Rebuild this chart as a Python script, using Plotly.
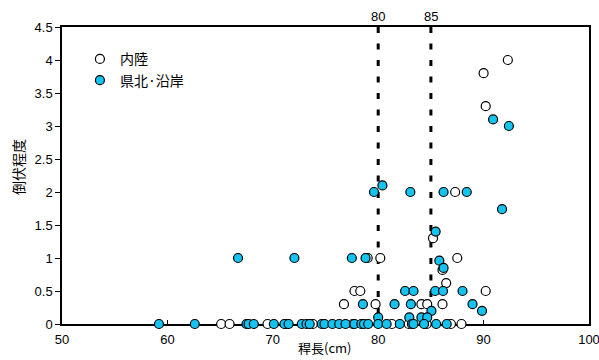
import plotly.graph_objects as go

# 内陸 (inland) plots: culm length (cm) and lodging score
inland_len = [92.3, 90.0, 90.2, 87.3, 85.2, 80.2, 87.5, 79.0, 86.1, 86.45,
              77.75, 78.3, 90.2, 76.75, 79.75, 84.1, 84.65, 86.1,
              65.1, 65.9, 69.5, 71.3, 73.8, 77.6, 81.3, 82.9, 84.6, 86.9, 87.9]
inland_lodging = [4.0, 3.8, 3.3, 2.0, 1.3, 1.0, 1.0, 1.0, 0.82, 0.62,
                  0.5, 0.5, 0.5, 0.3, 0.3, 0.3, 0.3, 0.3,
                  0, 0, 0, 0, 0, 0, 0, 0, 0, 0, 0]

# 県北・沿岸 (northern / coastal) plots
coastal_len = [92.4, 90.9, 91.75, 79.6, 80.4, 83.05, 86.2, 88.4, 85.45,
               66.7, 72.05, 77.5, 78.8, 85.8, 86.2,
               82.55, 83.35, 85.4, 86.15, 88.0,
               78.55, 81.55, 83.1, 88.95, 85.05, 89.85,
               80.0, 82.95, 84.1, 84.65,
               59.2, 62.6, 67.5, 67.7, 68.2, 70.1, 71.1, 71.5, 72.75, 73.2,
               73.5, 74.65, 74.9, 75.65, 76.3, 76.9, 77.75, 78.4, 78.65, 79.05,
               80.0, 80.8, 82.05, 83.2, 83.35, 84.35, 85.5, 86.5]
coastal_lodging = [3.0, 3.1, 1.74, 2.0, 2.1, 2.0, 2.0, 2.0, 1.4,
                   1.0, 1.0, 1.0, 1.0, 0.96, 0.85,
                   0.5, 0.5, 0.5, 0.5, 0.5,
                   0.3, 0.3, 0.3, 0.3, 0.2, 0.2,
                   0.1, 0.1, 0.1, 0.1,
                   0, 0, 0, 0, 0, 0, 0, 0, 0, 0,
                   0, 0, 0, 0, 0, 0, 0, 0, 0, 0,
                   0, 0, 0, 0, 0, 0, 0, 0]

# reference culm lengths marked with dashed lines
ref_lengths = [80, 85]

x_ticks = [50, 60, 70, 80, 90, 100]
y_ticks = [0, 0.5, 1, 1.5, 2, 2.5, 3, 3.5, 4, 4.5]

FONT = "Liberation Sans, Arial, Noto Sans CJK JP"
CJK = "Noto Sans CJK JP, Liberation Sans"

fig = go.Figure()
fig.add_trace(go.Scatter(
    x=inland_len, y=inland_lodging, mode="markers", name="内陸",
    cliponaxis=False,
    marker=dict(size=9, color="white", line=dict(color="black", width=1.2)),
))
fig.add_trace(go.Scatter(
    x=coastal_len, y=coastal_lodging, mode="markers", name="県北·沿岸",
    cliponaxis=False,
    marker=dict(size=9, color="#14C3EF", line=dict(color="black", width=1.2)),
))

for v in ref_lengths:
    fig.add_shape(type="line", xref="x", yref="y", x0=v, x1=v, y0=4.5, y1=0,
                  line=dict(color="black", width=3, dash="6px,10.5px"),
                  layer="below")
    fig.add_annotation(x=v, xref="x", y=1, yref="paper", yanchor="bottom",
                       text=str(v), showarrow=False, yshift=1,
                       font=dict(family=FONT, size=13, color="black"))

fig.add_annotation(x=-0.0835, xref="paper", xanchor="center",
                   y=0.529, yref="paper", yanchor="middle",
                   text="倒伏程度", textangle=-90, showarrow=False,
                   font=dict(family=CJK, size=14, color="black"))
fig.add_annotation(x=0.498, xref="paper", xanchor="center",
                   y=0, yref="paper", yanchor="bottom",
                   yshift=-35, text="稈長(cm)", showarrow=False,
                   font=dict(family=CJK, size=13, color="black"))

fig.update_xaxes(range=[50, 100], tickvals=x_ticks, ticks="inside", ticklen=4,
                 tickcolor="black", showline=True, linecolor="black",
                 linewidth=1.5, mirror=True, showgrid=False, zeroline=False,
                 layer="below traces", automargin=False,
                 ticklabeloverflow="allow", ticklabelstandoff=3,
                 tickfont=dict(family=FONT, size=13, color="black"))
fig.update_yaxes(range=[0, 4.5], tickvals=y_ticks, ticks="outside", ticklen=5,
                 tickcolor="black", showline=True, linecolor="black",
                 linewidth=1.5, mirror=True, showgrid=False, zeroline=False,
                 layer="below traces", automargin=False,
                 ticklabeloverflow="allow",
                 tickfont=dict(family=FONT, size=13, color="black"))

fig.update_layout(
    width=599, height=360,
    margin=dict(l=62, r=10, t=27, b=36, autoexpand=False),
    plot_bgcolor="white", paper_bgcolor="white",
    showlegend=True,
    legend=dict(x=0.034, y=0.945, xanchor="left", yanchor="top",
                bgcolor="rgba(0,0,0,0)",
                font=dict(family=CJK, size=14, color="black")),
)

fig.write_html("out.html")
